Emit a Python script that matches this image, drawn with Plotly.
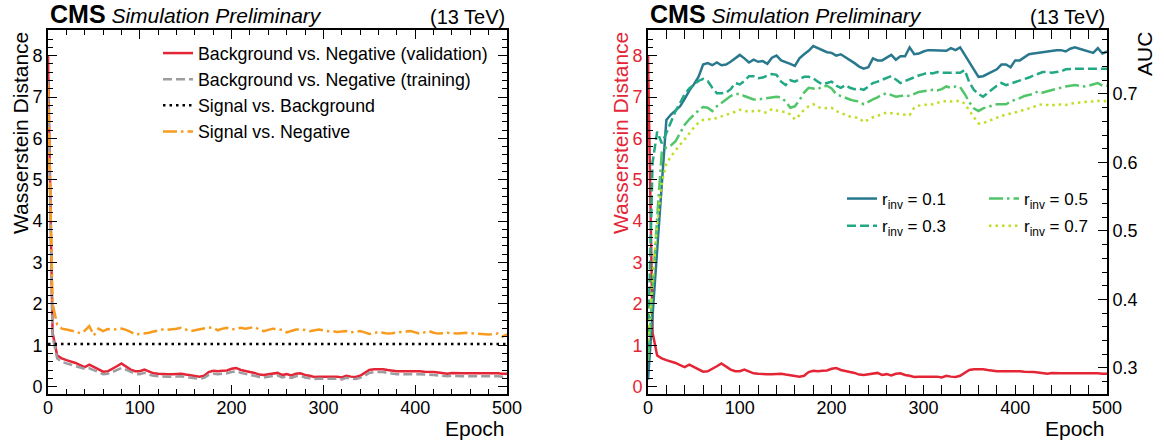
import plotly.graph_objects as go

W, H = 1164, 444

epochs = list(range(0, 501, 5))

bkg_neg_val = [
    8.0, 1.3, 0.75, 0.68, 0.64, 0.61, 0.57, 0.52, 0.47, 0.53,
    0.47, 0.41, 0.36, 0.37, 0.42, 0.49, 0.56, 0.49, 0.41, 0.37,
    0.37, 0.41, 0.36, 0.32, 0.31, 0.30, 0.30, 0.30, 0.31, 0.31,
    0.29, 0.27, 0.26, 0.24, 0.26, 0.35, 0.38, 0.37, 0.38, 0.39,
    0.43, 0.45, 0.40, 0.37, 0.35, 0.33, 0.29, 0.28, 0.30, 0.32,
    0.33, 0.28, 0.30, 0.27, 0.31, 0.32, 0.28, 0.26, 0.23, 0.24,
    0.24, 0.25, 0.24, 0.24, 0.22, 0.26, 0.24, 0.23, 0.26, 0.32,
    0.40, 0.42, 0.42, 0.42, 0.40, 0.38, 0.37, 0.37, 0.37, 0.37,
    0.38, 0.37, 0.36, 0.36, 0.35, 0.34, 0.33, 0.31, 0.33, 0.32,
    0.32, 0.32, 0.32, 0.33, 0.33, 0.33, 0.32, 0.32, 0.32, 0.31,
    0.31]

bkg_neg_train = [
    7.4, 1.2, 0.68, 0.60, 0.56, 0.53, 0.50, 0.46, 0.43, 0.44,
    0.40, 0.35, 0.30, 0.31, 0.35, 0.41, 0.45, 0.41, 0.35, 0.31,
    0.30, 0.33, 0.29, 0.26, 0.25, 0.24, 0.24, 0.24, 0.25, 0.25,
    0.23, 0.21, 0.20, 0.19, 0.21, 0.28, 0.31, 0.30, 0.31, 0.32,
    0.35, 0.37, 0.33, 0.30, 0.28, 0.26, 0.23, 0.22, 0.24, 0.26,
    0.27, 0.22, 0.24, 0.21, 0.25, 0.26, 0.22, 0.20, 0.18, 0.19,
    0.19, 0.20, 0.19, 0.19, 0.17, 0.21, 0.19, 0.18, 0.21, 0.26,
    0.33, 0.35, 0.35, 0.35, 0.33, 0.31, 0.30, 0.30, 0.30, 0.30,
    0.31, 0.30, 0.29, 0.29, 0.28, 0.27, 0.26, 0.25, 0.26, 0.25,
    0.25, 0.25, 0.25, 0.26, 0.26, 0.26, 0.25, 0.25, 0.25, 0.24,
    0.24]

sig_neg = [
    7.3, 2.0, 1.50, 1.40, 1.38, 1.36, 1.33, 1.29, 1.35, 1.46,
    1.24, 1.40, 1.34, 1.39, 1.39, 1.38, 1.40, 1.37, 1.32, 1.26,
    1.27, 1.28, 1.30, 1.33, 1.36, 1.38, 1.37, 1.38, 1.40, 1.42,
    1.38, 1.34, 1.36, 1.38, 1.40, 1.43, 1.42, 1.36, 1.40, 1.42,
    1.38, 1.40, 1.42, 1.40, 1.42, 1.44, 1.38, 1.34, 1.37, 1.40,
    1.39, 1.37, 1.31, 1.34, 1.38, 1.38, 1.37, 1.34, 1.36, 1.38,
    1.36, 1.34, 1.34, 1.32, 1.33, 1.34, 1.31, 1.32, 1.34, 1.31,
    1.27, 1.29, 1.32, 1.30, 1.28, 1.29, 1.31, 1.32, 1.33, 1.34,
    1.31, 1.28, 1.31, 1.34, 1.30, 1.28, 1.29, 1.30, 1.29, 1.28,
    1.29, 1.30, 1.29, 1.28, 1.28, 1.27, 1.26, 1.27, 1.28, 1.21,
    1.26]

sig_bkg_epochs = [0, 500]
sig_bkg = [1.03, 1.03]

auc_r01 = [
    0.283, 0.380, 0.480, 0.580, 0.662, 0.670, 0.676, 0.682, 0.693, 0.705,
    0.714, 0.725, 0.743, 0.745, 0.742, 0.746, 0.742, 0.743, 0.747, 0.752,
    0.757, 0.752, 0.746, 0.750, 0.747, 0.748, 0.744, 0.753, 0.756, 0.749,
    0.747, 0.744, 0.741, 0.752, 0.758, 0.763, 0.770, 0.767, 0.763, 0.761,
    0.760, 0.756, 0.758, 0.754, 0.749, 0.745, 0.740, 0.737, 0.739, 0.752,
    0.749, 0.749, 0.753, 0.757, 0.750, 0.755, 0.755, 0.768, 0.758, 0.759,
    0.762, 0.764, 0.764, 0.764, 0.764, 0.763, 0.767, 0.764, 0.768, 0.757,
    0.745, 0.734, 0.725, 0.726, 0.729, 0.733, 0.736, 0.743, 0.743, 0.739,
    0.749, 0.749, 0.753, 0.758, 0.759, 0.760, 0.762, 0.763, 0.763, 0.764,
    0.764, 0.762, 0.766, 0.768, 0.766, 0.764, 0.762, 0.760, 0.767, 0.759,
    0.762]

auc_r03 = [
    0.330, 0.600, 0.645, 0.628, 0.643, 0.660, 0.675, 0.687, 0.700, 0.708,
    0.714, 0.719, 0.722, 0.719, 0.709, 0.701, 0.701, 0.702, 0.707, 0.716,
    0.714, 0.719, 0.726, 0.726, 0.723, 0.724, 0.727, 0.729, 0.728, 0.718,
    0.713, 0.720, 0.718, 0.721, 0.725, 0.725, 0.723, 0.718, 0.714, 0.716,
    0.718, 0.712, 0.709, 0.713, 0.709, 0.707, 0.708, 0.706, 0.711, 0.716,
    0.718, 0.721, 0.724, 0.726, 0.721, 0.716, 0.719, 0.722, 0.724, 0.727,
    0.729, 0.731, 0.730, 0.732, 0.731, 0.731, 0.731, 0.730, 0.731, 0.735,
    0.717, 0.706, 0.700, 0.696, 0.702, 0.707, 0.712, 0.716, 0.713, 0.715,
    0.717, 0.720, 0.722, 0.724, 0.727, 0.730, 0.732, 0.732, 0.731, 0.732,
    0.733, 0.736, 0.737, 0.737, 0.737, 0.737, 0.736, 0.737, 0.737, 0.737,
    0.737]

auc_r05 = [
    0.310, 0.420, 0.520, 0.615, 0.622, 0.625, 0.631, 0.643, 0.655, 0.663,
    0.670, 0.676, 0.681, 0.680, 0.675, 0.682, 0.687, 0.692, 0.697, 0.700,
    0.700, 0.697, 0.694, 0.692, 0.692, 0.693, 0.695, 0.696, 0.696, 0.695,
    0.689, 0.680, 0.682, 0.691, 0.702, 0.709, 0.708, 0.707, 0.711, 0.712,
    0.708, 0.700, 0.697, 0.694, 0.692, 0.690, 0.689, 0.685, 0.689, 0.692,
    0.695, 0.699, 0.701, 0.699, 0.696, 0.697, 0.698, 0.697, 0.700, 0.703,
    0.704, 0.705, 0.706, 0.705, 0.707, 0.711, 0.709, 0.711, 0.710, 0.700,
    0.688, 0.679, 0.675, 0.679, 0.681, 0.684, 0.685, 0.685, 0.685, 0.689,
    0.691, 0.694, 0.697, 0.698, 0.700, 0.704, 0.702, 0.704, 0.706, 0.708,
    0.709, 0.711, 0.712, 0.713, 0.712, 0.711, 0.712, 0.714, 0.716, 0.712,
    0.712]

auc_r07 = [
    0.340, 0.430, 0.510, 0.570, 0.598, 0.609, 0.618, 0.626, 0.634, 0.643,
    0.651, 0.658, 0.662, 0.663, 0.663, 0.665, 0.667, 0.669, 0.671, 0.674,
    0.677, 0.675, 0.674, 0.675, 0.676, 0.673, 0.673, 0.678, 0.676, 0.674,
    0.674, 0.670, 0.663, 0.669, 0.677, 0.682, 0.685, 0.681, 0.679, 0.679,
    0.680, 0.675, 0.672, 0.670, 0.667, 0.666, 0.665, 0.659, 0.663, 0.666,
    0.668, 0.671, 0.673, 0.672, 0.671, 0.671, 0.670, 0.669, 0.680, 0.683,
    0.684, 0.684, 0.685, 0.687, 0.688, 0.690, 0.689, 0.689, 0.690, 0.686,
    0.675, 0.666, 0.657, 0.657, 0.660, 0.663, 0.666, 0.668, 0.670, 0.671,
    0.673, 0.675, 0.677, 0.678, 0.681, 0.684, 0.685, 0.684, 0.683, 0.685,
    0.684, 0.684, 0.686, 0.687, 0.688, 0.688, 0.689, 0.689, 0.690, 0.689,
    0.690]

RED = "#e42536"
GREY = "#9c9ca1"
ORANGE = "#f89c20"
VIR = ["#2a788e", "#22a884", "#52c569", "#bddf26"]
FONT = "Liberation Sans, Arial, Helvetica, sans-serif"
LW = 2.5

fig = go.Figure()

# ---- left panel ----
fig.add_trace(go.Scatter(x=epochs, y=bkg_neg_val, mode="lines", name="Background vs. Negative (validation)",
                         line=dict(color=RED, width=LW), xaxis="x", yaxis="y", legendgroup="a", legend="legend"))
fig.add_trace(go.Scatter(x=epochs, y=bkg_neg_train, mode="lines", name="Background vs. Negative (training)",
                         line=dict(color=GREY, width=LW, dash="9px,4px"), xaxis="x", yaxis="y", legendgroup="b", legend="legend"))
fig.add_trace(go.Scatter(x=sig_bkg_epochs, y=sig_bkg, mode="lines", name="Signal vs. Background",
                         line=dict(color="black", width=LW, dash="2.5px,4px"), xaxis="x", yaxis="y", legendgroup="c", legend="legend"))
fig.add_trace(go.Scatter(x=epochs, y=sig_neg, mode="lines", name="Signal vs. Negative",
                         line=dict(color=ORANGE, width=LW, dash="14px,4px,2.5px,4px"), xaxis="x", yaxis="y", legendgroup="d", legend="legend"))

# ---- right panel ----
fig.add_trace(go.Scatter(x=epochs, y=bkg_neg_val, mode="lines", showlegend=False,
                         line=dict(color=RED, width=LW), xaxis="x2", yaxis="y2"))
auc_sets = [(auc_r01, "0.1", "solid", "legend2", "g1"), (auc_r03, "0.3", "9px,4px", "legend2", "g2"),
            (auc_r05, "0.5", "14px,4px,2.5px,4px", "legend3", "g3"), (auc_r07, "0.7", "2.5px,4px", "legend3", "g4")]
for (vals, lab, dash, lg, grp), col in zip(auc_sets, VIR):
    fig.add_trace(go.Scatter(x=epochs, y=vals, mode="lines", name="r<sub>inv</sub> = " + lab,
                             line=dict(color=col, width=LW, dash=dash), xaxis="x2", yaxis="y3",
                             legend=lg, legendgroup=grp))

def px_x(p):
    return p / W

def px_y(p):
    return 1 - p / H

L1, R1 = 48, 507
L2, R2 = 648, 1107
TOP, BOT = 30, 394

tick_common = dict(ticks="inside", ticklen=9, tickwidth=1.3, tickcolor="black", showline=True,
                   linewidth=1.8, linecolor="black", showgrid=False, zeroline=False,
                   tickfont=dict(family=FONT, size=18, color="black"), automargin=False)

xminor = dict(ticks="inside", ticklen=5, tickwidth=1, tickcolor="black", dtick=20)
yminor = dict(ticks="inside", ticklen=5, tickwidth=1, tickcolor="black", dtick=0.2)
aucminor = dict(ticks="inside", ticklen=5, tickwidth=1, tickcolor="black", dtick=0.02, tick0=0.3)

yr = [-0.18, 8.62]
aucr = [0.262, 0.7934]

fig.update_layout(
    width=W, height=H, margin=dict(l=0, r=0, t=0, b=0),
    paper_bgcolor="white", plot_bgcolor="white",
    font=dict(family=FONT, color="black"),
    xaxis=dict(domain=[px_x(L1), px_x(R1)], range=[0, 500], dtick=100, tick0=0, anchor="y",
               mirror="allticks", minor=xminor, ticklabelstandoff=-4, **tick_common),
    yaxis=dict(domain=[px_y(BOT), px_y(TOP)], range=yr, dtick=1, tick0=0, anchor="x",
               mirror="allticks", minor=yminor, **tick_common),
    xaxis2=dict(domain=[px_x(L2), px_x(R2)], range=[0, 500], dtick=100, tick0=0, anchor="y2",
                mirror="allticks", minor=xminor, ticklabelstandoff=-4, **tick_common),
    yaxis2=dict(domain=[px_y(BOT), px_y(TOP)], range=yr, dtick=1, tick0=0, anchor="x2",
                minor=yminor, **{**tick_common, "tickfont": dict(family=FONT, size=18, color=RED)}),
    yaxis3=dict(range=aucr, dtick=0.1, tick0=0.3, anchor="x2", overlaying="y2", side="right",
                minor=aucminor, **tick_common),
    legend=dict(x=px_x(158), y=px_y(35), xanchor="left", yanchor="top", bgcolor="rgba(0,0,0,0)",
                font=dict(family=FONT, size=17.8, color="black"), tracegroupgap=0, itemwidth=30),
    legend2=dict(x=px_x(842), y=px_y(181), xanchor="left", yanchor="top", bgcolor="rgba(0,0,0,0)",
                 font=dict(family=FONT, size=17, color="black"), tracegroupgap=2, itemwidth=30),
    legend3=dict(x=px_x(984), y=px_y(181), xanchor="left", yanchor="top", bgcolor="rgba(0,0,0,0)",
                 font=dict(family=FONT, size=17, color="black"), tracegroupgap=2, itemwidth=30),
    showlegend=True,
)

def header(left, right):
    return [
        dict(text="<span style='font-size:25px'><b>CMS</b></span><span style='font-size:21px'> <i>Simulation Preliminary</i></span>",
             x=px_x(left), y=px_y(30), xref="paper", yref="paper", xanchor="left", yanchor="bottom",
             showarrow=False, font=dict(family=FONT, size=21, color="black")),
        dict(text="(13 TeV)", x=px_x(right), y=px_y(30), xref="paper", yref="paper", xanchor="right",
             yanchor="bottom", showarrow=False, font=dict(family=FONT, size=20, color="black")),
        dict(text="Epoch", x=px_x(right), y=px_y(428), xref="paper", yref="paper", xanchor="right",
             yanchor="middle", showarrow=False, font=dict(family=FONT, size=21, color="black")),
    ]

annotations = header(L1, R1) + header(L2, R2) + [
    dict(text="Wasserstein Distance", x=px_x(20), y=px_y(TOP), xref="paper", yref="paper",
         xanchor="center", yanchor="top", textangle=-90, showarrow=False,
         font=dict(family=FONT, size=21, color="black")),
    dict(text="Wasserstein Distance", x=px_x(620), y=px_y(TOP), xref="paper", yref="paper",
         xanchor="center", yanchor="top", textangle=-90, showarrow=False,
         font=dict(family=FONT, size=21, color=RED)),
    dict(text="AUC", x=px_x(1145), y=px_y(TOP), xref="paper", yref="paper",
         xanchor="center", yanchor="top", textangle=-90, showarrow=False,
         font=dict(family=FONT, size=21, color="black")),
]
fig.update_layout(annotations=annotations)

fig.write_html("out.html")
